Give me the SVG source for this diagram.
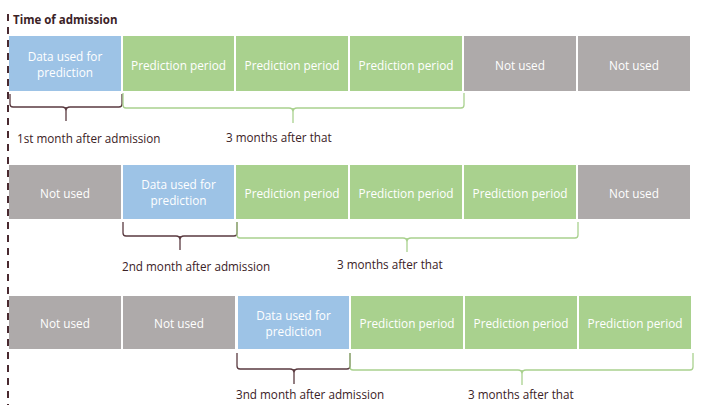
<svg xmlns="http://www.w3.org/2000/svg" width="720" height="405" viewBox="0 0 720 405">
<style>
.box text{font-family:"Open Sans","Liberation Sans",sans-serif;font-size:11.8px;fill:#ffffff;text-anchor:middle}
.blue{fill:#9dc3e6}.green{fill:#a9d18e}.gray{fill:#aeaaaa}
.lbl{font-family:"Open Sans","Liberation Sans",sans-serif;font-size:11.7px;fill:#3b2226}
.dk{fill:none;stroke:#5a3a40;stroke-width:1.3}
.gr{fill:none;stroke:#a9d18e;stroke-width:1.3}
</style>
<rect width="720" height="405" fill="#ffffff"/>
<g id="admission">
<line x1="8" y1="14" x2="8" y2="405" stroke="#4a2a30" stroke-width="2" stroke-dasharray="7 6"/>
<text x="13" y="24" font-family="Open Sans,Liberation Sans,sans-serif" font-size="11.5" font-weight="bold" fill="#3b2226">Time of admission</text>
</g>
<g id="row1">
<g id="r1b1" class="box"><rect class="blue" x="9" y="36" width="112" height="55"/><text x="65" y="61">Data used for</text><text x="65" y="77">prediction</text></g>
<g id="r1b2" class="box"><rect class="green" x="123" y="36" width="111" height="55"/><text x="178.5" y="70">Prediction period</text></g>
<g id="r1b3" class="box"><rect class="green" x="236" y="36" width="112" height="55"/><text x="292" y="70">Prediction period</text></g>
<g id="r1b4" class="box"><rect class="green" x="350" y="36" width="112" height="55"/><text x="406" y="70">Prediction period</text></g>
<g id="r1b5" class="box"><rect class="gray" x="464" y="36" width="112" height="55"/><text x="520" y="70">Not used</text></g>
<g id="r1b6" class="box"><rect class="gray" x="578" y="36" width="112" height="55"/><text x="634" y="70">Not used</text></g>
</g>
<g id="row2">
<g id="r2b1" class="box"><rect class="gray" x="9" y="165" width="112" height="54"/><text x="65" y="198">Not used</text></g>
<g id="r2b2" class="box"><rect class="blue" x="123" y="165" width="111" height="54"/><text x="178.5" y="189">Data used for</text><text x="178.5" y="205">prediction</text></g>
<g id="r2b3" class="box"><rect class="green" x="236" y="165" width="112" height="54"/><text x="292" y="198">Prediction period</text></g>
<g id="r2b4" class="box"><rect class="green" x="350" y="165" width="112" height="54"/><text x="406" y="198">Prediction period</text></g>
<g id="r2b5" class="box"><rect class="green" x="464" y="165" width="112" height="54"/><text x="520" y="198">Prediction period</text></g>
<g id="r2b6" class="box"><rect class="gray" x="578" y="165" width="112" height="54"/><text x="634" y="198">Not used</text></g>
</g>
<g id="row3">
<g id="r3b1" class="box"><rect class="gray" x="9" y="296" width="112" height="53"/><text x="65" y="328">Not used</text></g>
<g id="r3b2" class="box"><rect class="gray" x="123" y="296" width="112" height="53"/><text x="179" y="328">Not used</text></g>
<g id="r3b3" class="box"><rect class="blue" x="238" y="296" width="111" height="53"/><text x="293.5" y="320">Data used for</text><text x="293.5" y="336">prediction</text></g>
<g id="r3b4" class="box"><rect class="green" x="351" y="296" width="112" height="53"/><text x="407" y="328">Prediction period</text></g>
<g id="r3b5" class="box"><rect class="green" x="465" y="296" width="112" height="53"/><text x="521" y="328">Prediction period</text></g>
<g id="r3b6" class="box"><rect class="green" x="579" y="296" width="112" height="53"/><text x="635" y="328">Prediction period</text></g>
</g>
<g id="connectors">
<path class="dk" d="M10,94 L10,104 Q10,107 13,107 L62,107 Q66,107 66,111 Q66,107 70,107 L119,107 Q122,107 122,104 L122,94 M66,107 L66,121"/>
<path class="gr" d="M123,93 L123,105 Q123,108 126,108 L289,108 Q293,108 293,112 Q293,108 297,108 L461,108 Q464,108 464,105 L464,93 M293,108 L293,123"/>
<path class="dk" d="M123,222 L123,233 Q123,236 126,236 L176,236 Q180,236 180,240 Q180,236 184,236 L234,236 Q237,236 237,233 L237,222 M180,236 L180,250"/>
<path class="gr" d="M237,222 L237,235 Q237,238 240,238 L403,238 Q407,238 407,242 Q407,238 411,238 L575,238 Q578,238 578,235 L578,222 M407,238 L407,252"/>
<path class="dk" d="M237,353 L237,366 Q237,369 240,369 L290,369 Q294,369 294,373 Q294,369 298,369 L347,369 Q350,369 350,366 L350,353 M294,369 L294,384"/>
<path class="gr" d="M350,353 L350,367 Q350,370 353,370 L518,370 Q522,370 522,374 Q522,370 526,370 L690,370 Q693,370 693,367 L693,353 M522,370 L522,385"/>
</g>
<g id="labels">
<text class="lbl" x="17" y="143">1st month after admission</text>
<text class="lbl" x="226" y="142">3 months after that</text>
<text class="lbl" x="122" y="271">2nd month after admission</text>
<text class="lbl" x="337" y="269">3 months after that</text>
<text class="lbl" x="236" y="399">3nd month after admission</text>
<text class="lbl" x="468" y="399">3 months after that</text>
</g>
</svg>
